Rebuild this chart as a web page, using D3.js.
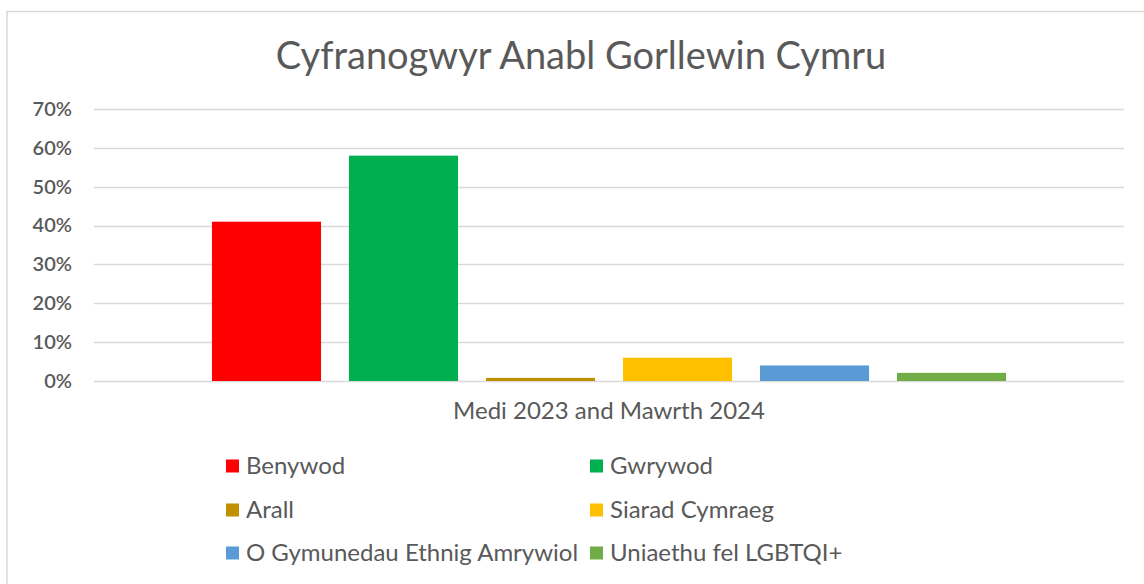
<!DOCTYPE html>
<html><head><meta charset="utf-8">
<script src="https://cdn.jsdelivr.net/npm/d3@7"></script>
<style>body{margin:0;background:#fff}svg{display:block}text{font-family:Lato,"Open Sans",sans-serif}</style>
</head><body><svg id="c" width="1144" height="584"></svg>
<script>
const title = "Cyfranogwyr Anabl Gorllewin Cymru";
const categories = ["Medi 2023 and Mawrth 2024"];
const seriesNames = ["Benywod","Gwrywod","Arall","Siarad Cymraeg","O Gymunedau Ethnig Amrywiol","Uniaethu fel LGBTQI+"];
const seriesValues = [0.41, 0.58, 0.008, 0.06, 0.04, 0.021];
const seriesColors = ["#ff0000","#00b050","#bf9000","#ffc000","#5b9bd5","#70ad47"];
const yTicks = [0,0.1,0.2,0.3,0.4,0.5,0.6,0.7];

const svg = d3.select("#c");
// chart border
svg.append("rect").attr("x",7).attr("y",11.5).attr("width",1160).attr("height",600)
  .attr("fill","#fff").attr("stroke","#d9d9d9").attr("stroke-width",1.5);

const L=94,R=1124,T=109,B=381;
const y = d3.scaleLinear().domain([0,0.7]).range([B,T]);
const x0 = d3.scaleBand().domain(categories).range([L,R]).paddingInner(0).paddingOuter(0.1265);
const x1 = d3.scaleBand().domain(seriesNames).range([0,x0.bandwidth()]).paddingInner(0.204).paddingOuter(0.102);

svg.append("text").attr("x",581).attr("y",69).attr("text-anchor","middle")
  .attr("font-size",38).attr("fill","#595959").text(title);

// gridlines
svg.append("g").selectAll("line").data(yTicks).join("line")
  .attr("x1",L).attr("x2",R).attr("y1",d=>Math.round(y(d))+0.5).attr("y2",d=>Math.round(y(d))+0.5)
  .attr("stroke","#d9d9d9").attr("stroke-width",1.5);

// y axis labels
const yAxis = d3.axisLeft(y).tickValues(yTicks).tickFormat(d3.format(".0%")).tickSize(0).tickPadding(22);
const ga = svg.append("g").attr("transform",`translate(${L},0)`).call(yAxis);
ga.select(".domain").remove();
ga.selectAll("text").attr("font-size",20).attr("font-weight",600).attr("fill","#595959")
  .attr("font-family","Lato, sans-serif");

// bars
const data = seriesNames.map((n,i)=>({n,v:seriesValues[i],c:seriesColors[i]}));
svg.append("g").selectAll("rect").data(data).join("rect")
  .attr("x",d=>x0(categories[0])+x1(d.n)).attr("width",x1.bandwidth())
  .attr("y",d=>y(d.v)).attr("height",d=>B-y(d.v)).attr("fill",d=>d.c);

// category label
svg.append("text").attr("x",x0(categories[0])+x0.bandwidth()/2).attr("y",419).attr("text-anchor","middle")
  .attr("font-size",24).attr("fill","#595959").text(categories[0]);

// legend
const lg = svg.append("g");
const colX=[226,590], rowY=[466,510,553];
data.forEach((d,i)=>{
  const cx=colX[i%2], cy=rowY[Math.floor(i/2)];
  lg.append("rect").attr("x",cx).attr("y",cy-6.5).attr("width",13).attr("height",13).attr("fill",d.c);
  lg.append("text").attr("x",cx+20).attr("y",cy).attr("dy","0.35em").attr("font-size",24)
    .attr("fill","#595959").text(d.n);
});
</script></body></html>
